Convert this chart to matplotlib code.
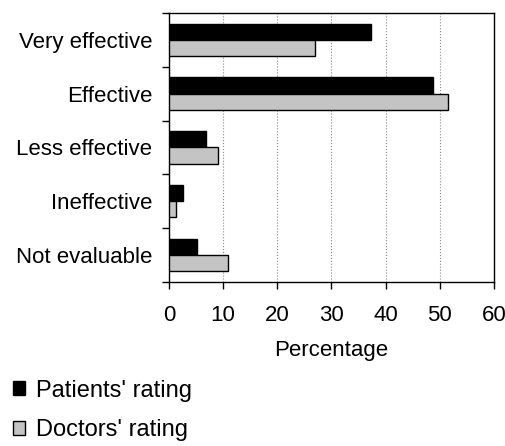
import matplotlib.pyplot as plt
from matplotlib.patches import Patch

plt.rcParams['font.family'] = ['Liberation Sans', 'DejaVu Sans']

categories = ['Very effective', 'Effective', 'Less effective', 'Ineffective', 'Not evaluable']
patients = [37.3, 48.8, 6.9, 2.5, 5.2]
doctors = [27.0, 51.6, 9.0, 1.3, 10.9]
xticks = [0, 10, 20, 30, 40, 50, 60]

fig = plt.figure(figsize=(5.06, 4.46), dpi=100)
ax = fig.add_axes([0.334, 0.368, 0.642, 0.603])

pos = list(range(len(categories)))
h = 0.3
ax.barh([p - h / 2 for p in pos], patients, height=h, color='black', edgecolor='black', linewidth=1, zorder=3)
ax.barh([p + h / 2 for p in pos], doctors, height=h, color='#c4c4c4', edgecolor='black', linewidth=1, zorder=3)

ax.set_xlim(0, 60)
ax.set_ylim(len(categories) - 0.5, -0.5)
ax.set_xticks(xticks)
ax.set_xticklabels([str(t) for t in xticks], fontsize=16)
ax.tick_params(axis='x', length=5, width=1, pad=12)

# category boundaries get the visible ticks, labels sit at the centres
ax.set_yticks([p - 0.5 for p in pos] + [len(categories) - 0.5])
ax.set_yticklabels([])
ax.tick_params(axis='y', which='major', length=5, width=1)
ax.set_yticks(pos, minor=True)
ax.set_yticklabels(categories, minor=True, fontsize=16)
ax.tick_params(axis='y', which='minor', length=0, pad=12)

ax.grid(axis='x', color='#888888', linestyle=':', linewidth=0.8, zorder=0)
for s in ax.spines.values():
    s.set_linewidth(1)

ax.set_xlabel('Percentage', fontsize=16, labelpad=10)

handles = [Patch(facecolor='black', edgecolor='black', label="Patients' rating"),
           Patch(facecolor='#c4c4c4', edgecolor='black', label="Doctors' rating")]
fig.legend(handles=handles, loc='lower left', bbox_to_anchor=(0.016, 0.0), frameon=False,
           fontsize=17, handlelength=0.5, handleheight=0.55, handletextpad=0.5,
           labelspacing=0.75, borderpad=0.2, borderaxespad=0)

fig.savefig('out.png', dpi=100)
